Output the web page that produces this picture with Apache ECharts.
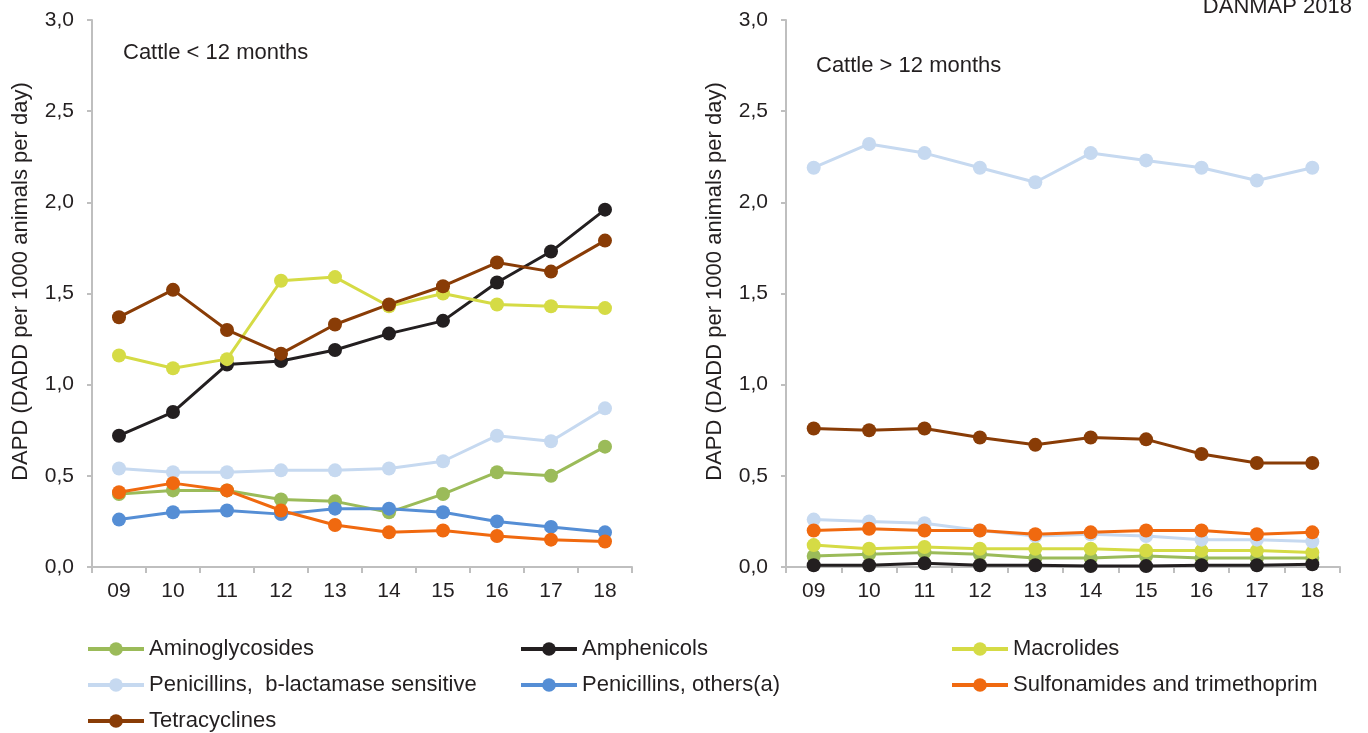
<!DOCTYPE html>
<html>
<head>
<meta charset="utf-8">
<script src="https://cdn.jsdelivr.net/npm/echarts@6/dist/echarts.min.js"></script>
<style>
  html, body { margin: 0; padding: 0; background: #fff; }
  #chart { width: 1368px; height: 733px; }
</style>
</head>
<body>
<div id="chart"></div>
<script>
// ---- data ----
const years = ['09', '10', '11', '12', '13', '14', '15', '16', '17', '18'];
const seriesNames = ['Aminoglycosides', 'Amphenicols', 'Macrolides', 'Penicillins,  b-lactamase sensitive', 'Penicillins, others(a)', 'Sulfonamides and trimethoprim', 'Tetracyclines'];
const panelTitles = ['Cattle < 12 months', 'Cattle > 12 months'];
const yTicks = [0, 0.5, 1, 1.5, 2, 2.5, 3];

// Cattle < 12 months
const amino_u12 = [0.40, 0.42, 0.42, 0.37, 0.36, 0.30, 0.40, 0.52, 0.50, 0.66];
const amphe_u12 = [0.72, 0.85, 1.11, 1.13, 1.19, 1.28, 1.35, 1.56, 1.73, 1.96];
const macro_u12 = [1.16, 1.09, 1.14, 1.57, 1.59, 1.43, 1.50, 1.44, 1.43, 1.42];
const penB_u12  = [0.54, 0.52, 0.52, 0.53, 0.53, 0.54, 0.58, 0.72, 0.69, 0.87];
const penO_u12  = [0.26, 0.30, 0.31, 0.29, 0.32, 0.32, 0.30, 0.25, 0.22, 0.19];
const sulfa_u12 = [0.41, 0.46, 0.42, 0.31, 0.23, 0.19, 0.20, 0.17, 0.15, 0.14];
const tetra_u12 = [1.37, 1.52, 1.30, 1.17, 1.33, 1.44, 1.54, 1.67, 1.62, 1.79];

// Cattle > 12 months
const amino_o12 = [0.06, 0.07, 0.08, 0.07, 0.05, 0.05, 0.06, 0.05, 0.05, 0.05];
const amphe_o12 = [0.01, 0.01, 0.02, 0.01, 0.01, 0.005, 0.005, 0.01, 0.01, 0.015];
const macro_o12 = [0.12, 0.10, 0.11, 0.10, 0.10, 0.10, 0.09, 0.09, 0.09, 0.08];
const penB_o12  = [2.19, 2.32, 2.27, 2.19, 2.11, 2.27, 2.23, 2.19, 2.12, 2.19];
const penO_o12  = [0.26, 0.25, 0.24, 0.20, 0.17, 0.18, 0.17, 0.15, 0.15, 0.14];
const sulfa_o12 = [0.20, 0.21, 0.20, 0.20, 0.18, 0.19, 0.20, 0.20, 0.18, 0.19];
const tetra_o12 = [0.76, 0.75, 0.76, 0.71, 0.67, 0.71, 0.70, 0.62, 0.57, 0.57];

// ---- styles ----
const colors = ['#9BBB59', '#231F20', '#D5DB45', '#C6D9F0', '#558ED5', '#F0690F', '#893C06'];
const u12 = [amino_u12, amphe_u12, macro_u12, penB_u12, penO_u12, sulfa_u12, tetra_u12];
const o12 = [amino_o12, amphe_o12, macro_o12, penB_o12, penO_o12, sulfa_o12, tetra_o12];
// In the reference, the lower penicillin line of the right panel is drawn in the light blue
const o12Colors = colors.slice();
o12Colors[4] = '#C6D9F0';

const FONT = '"Liberation Sans", Arial, sans-serif';
const TXT = '#231F20';
const AX = '#BFBFBF';

function yAxis(gridIndex) {
  return {
    type: 'value', gridIndex, min: 0, max: 3, interval: 0.5,
    name: 'DAPD (DADD per 1000 animals per day)',
    nameLocation: 'middle', nameGap: 60,
    nameTextStyle: { fontFamily: FONT, fontSize: 22, color: TXT, padding: [0, 0, 0, 24] },
    axisLine: { show: true, lineStyle: { color: AX, width: 2 } },
    axisTick: { show: true, length: 5, lineStyle: { color: AX, width: 2 } },
    splitLine: { show: false },
    axisLabel: {
      fontFamily: FONT, fontSize: 21, color: TXT, margin: 18,
      formatter: v => v.toFixed(1).replace('.', ',')
    }
  };
}
function xAxis(gridIndex) {
  return {
    type: 'category', gridIndex, data: years, boundaryGap: true,
    axisLine: { lineStyle: { color: AX, width: 2 } },
    axisTick: { show: true, length: 6, lineStyle: { color: AX, width: 2 } },
    axisLabel: { fontFamily: FONT, fontSize: 21, color: TXT, margin: 14 }
  };
}

const series = [];
seriesNames.forEach((name, i) => {
  series.push({
    name, type: 'line', xAxisIndex: 0, yAxisIndex: 0, data: u12[i],
    symbol: 'circle', symbolSize: 14, color: colors[i],
    lineStyle: { width: 3, color: colors[i] }, itemStyle: { color: colors[i] },
    animation: false
  });
});
seriesNames.forEach((name, i) => {
  series.push({
    name, type: 'line', xAxisIndex: 1, yAxisIndex: 1, data: o12[i],
    symbol: 'circle', symbolSize: 14, color: o12Colors[i],
    lineStyle: { width: 3, color: o12Colors[i] }, itemStyle: { color: o12Colors[i] },
    animation: false
  });
});

function legend(names, left) {
  return {
    orient: 'vertical', left, top: 638, padding: 0, height: 95,
    itemWidth: 56, itemHeight: 17, itemGap: 14,
    data: names.map((n) => ({ name: n, itemStyle: { color: colors[seriesNames.indexOf(n)] },
                              lineStyle: { color: colors[seriesNames.indexOf(n)], width: 4 } })),
    textStyle: { fontFamily: FONT, fontSize: 22, color: TXT, lineHeight: 22 }
  };
}

const option = {
  backgroundColor: '#fff',
  animation: false,
  grid: [
    { left: 92, top: 20, width: 540, height: 547 },
    { left: 786, top: 20, width: 554, height: 547 }
  ],
  xAxis: [xAxis(0), xAxis(1)],
  yAxis: [yAxis(0), yAxis(1)],
  legend: [
    legend([seriesNames[0], seriesNames[3], seriesNames[6]], 86),
    legend([seriesNames[1], seriesNames[4]], 519),
    legend([seriesNames[2], seriesNames[5]], 950)
  ],
  graphic: [
    { type: 'text', left: 123, top: 42, style: { text: panelTitles[0], font: '22px ' + FONT, fill: TXT } },
    { type: 'text', left: 816, top: 55, style: { text: panelTitles[1], font: '22px ' + FONT, fill: TXT } },
    { type: 'text', x: 1352, y: 18, style: { text: 'DANMAP 2018', font: '22px ' + FONT, fill: TXT, align: 'right', verticalAlign: 'bottom' } }
  ],
  series
};

const chart = echarts.init(document.getElementById('chart'), null, { renderer: 'canvas' });
chart.setOption(option);
</script>
</body>
</html>
